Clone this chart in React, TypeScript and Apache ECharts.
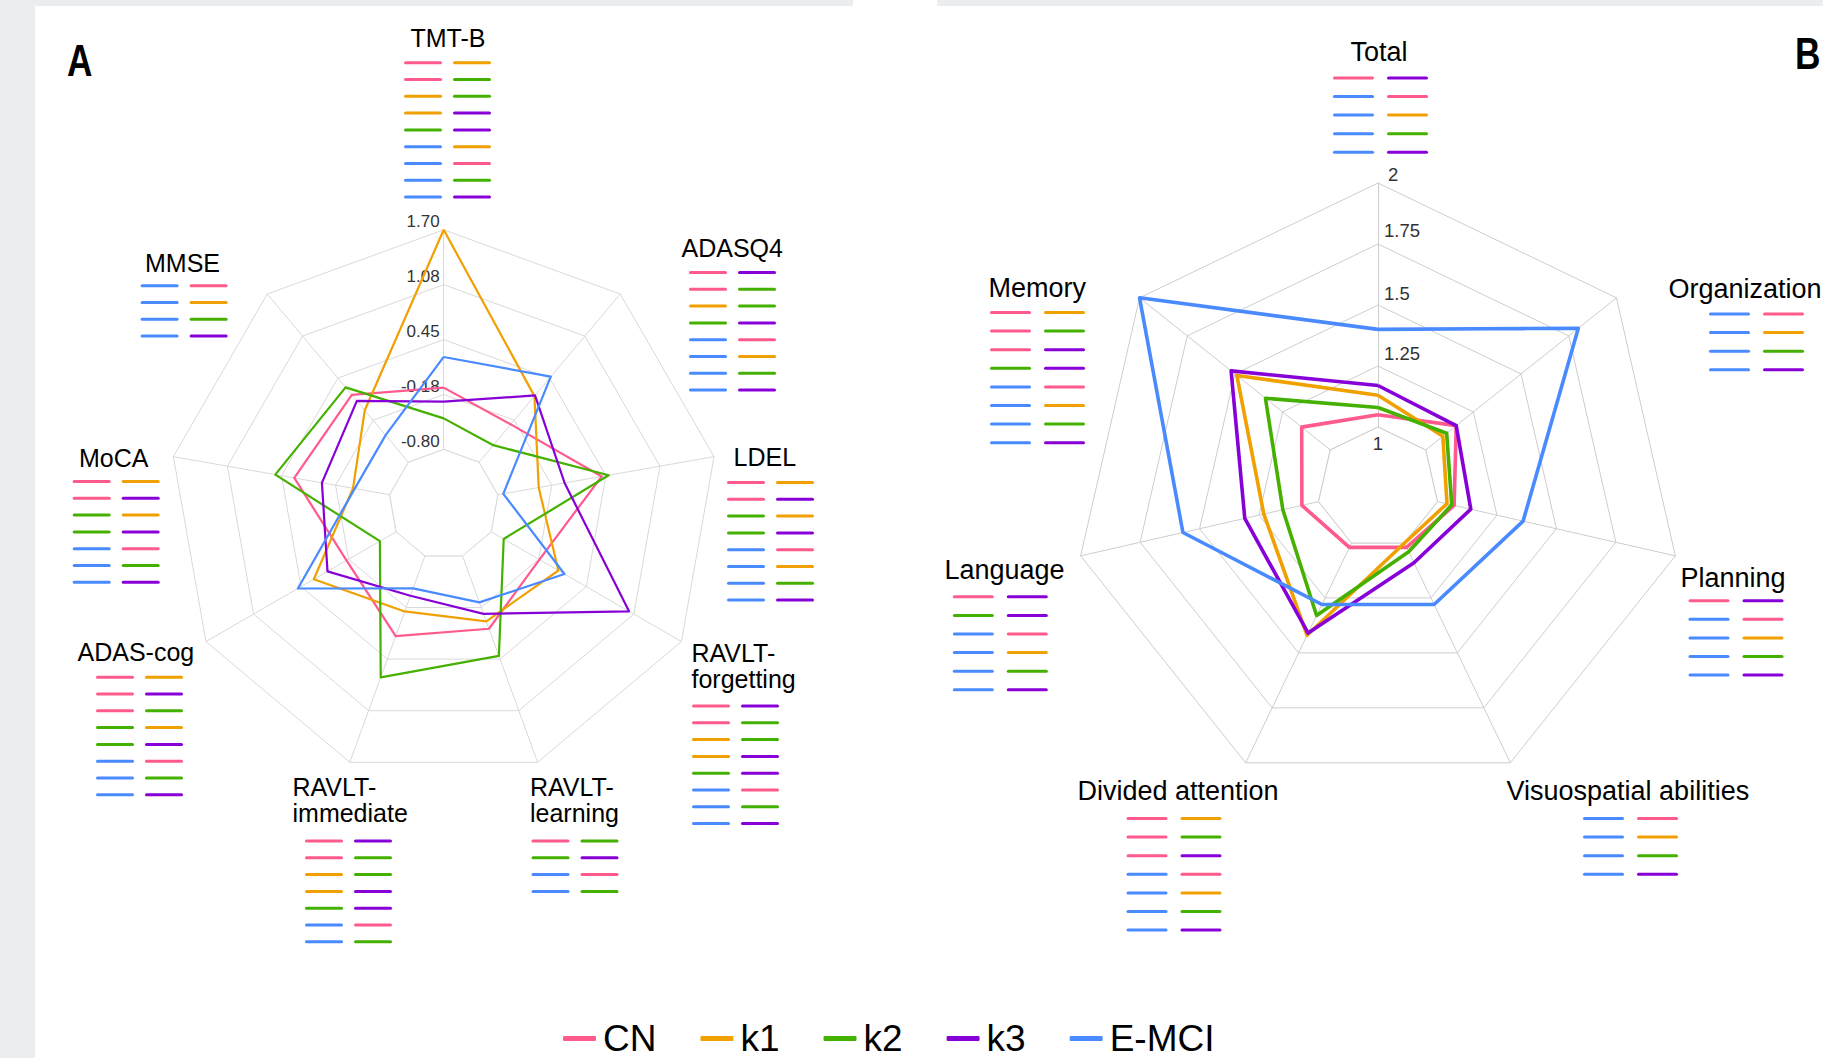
import React, { useEffect, useRef } from 'react';
import * as echarts from 'echarts';

// ---------- groups ----------
const GROUPS = ['CN', 'k1', 'k2', 'k3', 'E-MCI'];
const COLORS = ['#ff5a8c', '#f0a000', '#44b000', '#8800d8', '#4a8aff'];
const FONT = '"Liberation Sans", Arial, Helvetica, sans-serif';

// ---------- panel A (clockwise from top) ----------
const axesA = ['TMT-B', 'ADASQ4', 'LDEL', 'RAVLT-forgetting', 'RAVLT-learning', 'RAVLT-immediate', 'ADAS-cog', 'MoCA', 'MMSE'];
const labelTextA = ['TMT-B', 'ADASQ4', 'LDEL', 'RAVLT-\nforgetting', 'RAVLT-\nlearning', 'RAVLT-\nimmediate', 'ADAS-cog', 'MoCA', 'MMSE'];
const minA = -1.43;
const maxA = 1.7;
const ticksA = ['-0.80', '-0.18', '0.45', '1.08', '1.70'];
const cnA = [-0.1, -0.24, 0.4, -0.17, 0.08, 0.17, -0.15, 0.3, 0.2];
const k1A = [1.7, 0.18, -0.33, 0.08, -0.01, -0.13, 0.28, -0.38, -0.03];
const k2A = [-0.45, -0.55, 0.48, -0.64, 0.41, 0.67, -0.59, 0.52, 0.31];
const k3A = [-0.26, 0.19, -0.03, 1.01, -0.1, -0.32, 0.1, -0.02, 0.11];
const emciA = [0.25, 0.47, -0.74, 0.16, -0.24, -0.41, 0.49, -0.4, -0.4];

// significant pairs shown under each label (panel A)
const sigTMTB = [['CN', 'k1'], ['CN', 'k2'], ['k1', 'k2'], ['k1', 'k3'], ['k2', 'k3'], ['E-MCI', 'k1'], ['E-MCI', 'CN'], ['E-MCI', 'k2'], ['E-MCI', 'k3']];
const sigADASQ4 = [['CN', 'k3'], ['CN', 'k2'], ['k1', 'k2'], ['k2', 'k3'], ['E-MCI', 'CN'], ['E-MCI', 'k1'], ['E-MCI', 'k2'], ['E-MCI', 'k3']];
const sigLDEL = [['CN', 'k1'], ['CN', 'k3'], ['k2', 'k1'], ['k2', 'k3'], ['E-MCI', 'CN'], ['E-MCI', 'k1'], ['E-MCI', 'k2'], ['E-MCI', 'k3']];
const sigForgetting = [['CN', 'k3'], ['CN', 'k2'], ['k1', 'k2'], ['k1', 'k3'], ['k2', 'k3'], ['E-MCI', 'CN'], ['E-MCI', 'k2'], ['E-MCI', 'k3']];
const sigLearning = [['CN', 'k2'], ['k2', 'k3'], ['E-MCI', 'CN'], ['E-MCI', 'k2']];
const sigImmediate = [['CN', 'k3'], ['CN', 'k2'], ['k1', 'k2'], ['k1', 'k3'], ['k2', 'k3'], ['E-MCI', 'CN'], ['E-MCI', 'k2']];
const sigADAScog = [['CN', 'k1'], ['CN', 'k3'], ['CN', 'k2'], ['k2', 'k1'], ['k2', 'k3'], ['E-MCI', 'CN'], ['E-MCI', 'k2'], ['E-MCI', 'k3']];
const sigMoCA = [['CN', 'k1'], ['CN', 'k3'], ['k2', 'k1'], ['k2', 'k3'], ['E-MCI', 'CN'], ['E-MCI', 'k2'], ['E-MCI', 'k3']];
const sigMMSE = [['E-MCI', 'CN'], ['E-MCI', 'k1'], ['E-MCI', 'k2'], ['E-MCI', 'k3']];

// ---------- panel B (clockwise from top) ----------
const axesB = ['Total', 'Organization', 'Planning', 'Visuospatial abilities', 'Divided attention', 'Language', 'Memory'];
const minB = 0.75;
const maxB = 2;
const ticksB = ['1', '1.25', '1.5', '1.75', '2'];
const cnB = [1.05, 1.16, 1.07, 1.02, 1.02, 1.07, 1.15];
const k1B = [1.13, 1.09, 1.04, 1.0, 1.42, 1.23, 1.49];
const k2B = [1.08, 1.11, 1.06, 1.04, 1.33, 1.15, 1.34];
const k3B = [1.17, 1.16, 1.14, 1.09, 1.41, 1.31, 1.52];
const emciB = [1.4, 1.8, 1.36, 1.28, 1.28, 1.57, 2.0];

const sigTotal = [['CN', 'k3'], ['E-MCI', 'CN'], ['E-MCI', 'k1'], ['E-MCI', 'k2'], ['E-MCI', 'k3']];
const sigOrganization = [['E-MCI', 'CN'], ['E-MCI', 'k1'], ['E-MCI', 'k2'], ['E-MCI', 'k3']];
const sigPlanning = [['CN', 'k3'], ['E-MCI', 'CN'], ['E-MCI', 'k1'], ['E-MCI', 'k2'], ['E-MCI', 'k3']];
const sigVisuo = [['E-MCI', 'CN'], ['E-MCI', 'k1'], ['E-MCI', 'k2'], ['E-MCI', 'k3']];
const sigDivided = [['CN', 'k1'], ['CN', 'k2'], ['CN', 'k3'], ['E-MCI', 'CN'], ['E-MCI', 'k1'], ['E-MCI', 'k2'], ['E-MCI', 'k3']];
const sigLanguage = [['CN', 'k3'], ['k2', 'k3'], ['E-MCI', 'CN'], ['E-MCI', 'k1'], ['E-MCI', 'k2'], ['E-MCI', 'k3']];
const sigMemory = [['CN', 'k1'], ['CN', 'k2'], ['CN', 'k3'], ['k2', 'k3'], ['E-MCI', 'CN'], ['E-MCI', 'k1'], ['E-MCI', 'k2'], ['E-MCI', 'k3']];

// ---------- layout ----------
const RA = { cx: 443.7, cy: 504.3, r: 274.5, grid: '#d9d9d9' };
const RB = { cx: 1378, cy: 488, r: 305, grid: '#cdcdcd' };
// [textX, align, firstLineMiddleY, pairsLeftX, firstPairY]
const labelPosA: any[] = [
  [448, 'center', 37.5, 404, 62.7],
  [681.5, 'left', 247.6, 689, 272.5],
  [733.5, 'left', 456.6, 727, 482.5],
  [691.5, 'left', 653.3, 692, 706],
  [530, 'left', 787, 531.5, 841],
  [292.5, 'left', 787, 305, 841],
  [77.5, 'left', 652, 96, 677.2],
  [79, 'left', 457.5, 72.7, 481.5],
  [145, 'left', 262.5, 140.6, 285.7],
];
const labelPosB: any[] = [
  [1379, 'center', 52, 1333, 77.9],
  [1668.5, 'left', 289, 1709, 314],
  [1680.5, 'left', 578, 1688.5, 600.7],
  [1506.5, 'left', 791, 1583, 818.5],
  [1077.5, 'left', 791, 1126.5, 818.5],
  [944.5, 'left', 569.5, 952.8, 596.8],
  [988.5, 'left', 288, 990, 312.5],
];
const tickDyB = [16.6, -12.7, -12, -14, -9];
const tickDxB = [0, 6, 6, 6, 10];

// ECharts places indicators counter-clockwise; reference is clockwise
const ccw = (arr: any[]) => [arr[0], ...arr.slice(1).reverse()];

function radarCfg(layout: any, axes: string[], min: number, max: number) {
  return {
    center: [layout.cx, layout.cy],
    radius: layout.r,
    startAngle: 90,
    splitNumber: 5,
    shape: 'polygon',
    indicator: ccw(axes).map((name: string) => ({ name, min, max })),
    axisName: { show: false },
    axisLine: { show: true, lineStyle: { color: layout.grid, width: 1 } },
    axisTick: { show: false },
    axisLabel: { show: false },
    splitLine: { show: true, lineStyle: { color: layout.grid, width: 1 } },
    splitArea: { show: false },
  };
}

// white inner ring (spokes start at the first ring in the reference)
function innerRing(layout: any, n: number) {
  const r1 = layout.r / 5;
  const points: number[][] = [];
  for (let j = 0; j < n; j++) {
    const a = Math.PI / 2 - (j * 2 * Math.PI) / n;
    points.push([layout.cx + r1 * Math.cos(a), layout.cy - r1 * Math.sin(a)]);
  }
  return {
    type: 'polygon', z: 1, silent: true,
    shape: { points },
    style: { fill: '#ffffff', stroke: layout.grid, lineWidth: 1 },
  };
}

function buildOption() {
  const valuesA = [cnA, k1A, k2A, k3A, emciA];
  const valuesB = [cnB, k1B, k2B, k3B, emciB];
  const pairsA = [sigTMTB, sigADASQ4, sigLDEL, sigForgetting, sigLearning, sigImmediate, sigADAScog, sigMoCA, sigMMSE];
  const pairsB = [sigTotal, sigOrganization, sigPlanning, sigVisuo, sigDivided, sigLanguage, sigMemory];

  const series: any[] = [];
  GROUPS.forEach((g, i) => {
    series.push({
      type: 'radar', radarIndex: 0, name: g, symbol: 'none', z: 2,
      lineStyle: { color: COLORS[i], width: 2.2 }, itemStyle: { color: COLORS[i] },
      data: [{ name: g, value: ccw(valuesA[i]) }],
    });
  });
  GROUPS.forEach((g, i) => {
    series.push({
      type: 'radar', radarIndex: 1, name: g, symbol: 'none', z: 2,
      lineStyle: { color: COLORS[i], width: 3.6 }, itemStyle: { color: COLORS[i] },
      data: [{ name: g, value: ccw(valuesB[i]) }],
    });
  });

  const gr: any[] = [];
  gr.push({ type: 'rect', z: -1, silent: true, shape: { x: 35, y: 6, width: 1788, height: 1052 }, style: { fill: '#ffffff' } });
  gr.push({ type: 'rect', z: -1, silent: true, shape: { x: 853, y: 0, width: 84, height: 6 }, style: { fill: '#ffffff' } });
  gr.push(innerRing(RA, axesA.length));
  gr.push(innerRing(RB, axesB.length));

  // panel letters
  const letter = (t: string, x: number, y: number) => ({
    type: 'text', z: 5, x, y, scaleX: 0.8, silent: true,
    style: { text: t, x: 0, y: 0, fontSize: 44, fontWeight: 'bold', fontFamily: FONT, fill: '#000', align: 'left', verticalAlign: 'middle', textAlign: 'left', textVerticalAlign: 'middle' },
  });
  gr.push(letter('A', 67, 61));
  gr.push(letter('B', 1795, 54));

  // tick labels
  ticksA.forEach((t, i) => {
    const y = RA.cy - ((i + 1) * RA.r) / 5;
    gr.push({
      type: 'text', z: 1.5, silent: true,
      style: { text: t, x: RA.cx - 4, y: y - 8, fontSize: 17, fontFamily: FONT, fill: '#333', align: 'right', verticalAlign: 'middle', textAlign: 'right', textVerticalAlign: 'middle' },
    });
  });
  ticksB.forEach((t, i) => {
    const y = RB.cy - ((i + 1) * RB.r) / 5;
    const center = i === 0;
    gr.push({
      type: 'text', z: 1.5, silent: true,
      style: {
        text: t, x: RB.cx + tickDxB[i], y: y + tickDyB[i], fontSize: 18.5, fontFamily: FONT, fill: '#333',
        align: center ? 'center' : 'left', verticalAlign: 'middle', textAlign: center ? 'center' : 'left', textVerticalAlign: 'middle',
      },
    });
  });

  const addLabels = (texts: string[], pos: any[], pairs: string[][][], fontSize: number, lineH: number, rowGap: number, segLen: number, segGap: number) => {
    texts.forEach((t, k) => {
      const [x, align, my, px, py] = pos[k];
      gr.push({
        type: 'text', z: 5, silent: true,
        style: { text: t, x, y: my - lineH / 2, fontSize, fontFamily: FONT, fill: '#000', lineHeight: lineH, align, verticalAlign: 'top', textAlign: align, textVerticalAlign: 'top' },
      });
      pairs[k].forEach((pr, j) => {
        const y = py + j * rowGap;
        pr.forEach((name, s) => {
          const x0 = px + s * (segLen + segGap);
          gr.push({
            type: 'line', z: 5, silent: true,
            shape: { x1: x0 + 1.5, y1: y, x2: x0 + segLen - 1.5, y2: y },
            style: { stroke: COLORS[GROUPS.indexOf(name)], lineWidth: 3, lineCap: 'round' },
          });
        });
      });
    });
  };
  addLabels(labelTextA, labelPosA, pairsA, 25, 25.5, 16.8, 38, 11);
  addLabels(axesB, labelPosB, pairsB, 27, 28, 18.6, 41, 13);

  return {
    animation: false,
    backgroundColor: '#ebedf1',
    radar: [radarCfg(RA, axesA, minA, maxA), radarCfg(RB, axesB, minB, maxB)],
    legend: {
      data: GROUPS, left: 563, top: 1020, padding: 0, orient: 'horizontal',
      itemWidth: 33, itemHeight: 5, itemGap: 44, icon: 'roundRect', selectedMode: false,
      itemStyle: { borderWidth: 0 },
      textStyle: { fontSize: 37, fontFamily: FONT, color: '#000', lineHeight: 37, padding: [0, 0, 0, 2] },
    },
    graphic: { elements: gr },
    series,
  };
}

export default function App() {
  const ref = useRef<HTMLDivElement>(null);
  useEffect(() => {
    document.body.style.margin = '0';
    const chart = echarts.init(ref.current as HTMLDivElement, null, { renderer: 'svg' });
    chart.setOption(buildOption() as any);
    return () => chart.dispose();
  }, []);
  return <div ref={ref} style={{ width: 1823, height: 1058 }} />;
}
